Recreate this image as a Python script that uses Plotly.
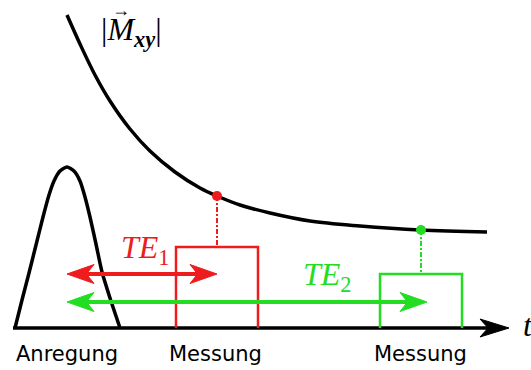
import plotly.graph_objects as go

# ---- data (x: time position, y: height above the time axis) ----
decay_t = [67, 80, 95, 110, 130, 150, 175, 200, 217, 240, 270, 310, 360, 420, 487]
decay_m = [313, 284, 253, 227, 199, 177, 156, 140, 132, 123, 115, 107, 102, 98, 96]

pulse_t = [15, 22, 29, 36, 43, 49, 54, 60, 67, 74, 80, 85, 90, 96, 102, 110, 120]
pulse_a = [0, 28, 55, 83, 111, 133, 147, 157, 161, 157, 147, 131, 111, 84, 56, 30, 0]

axis_start, axis_tip = 13, 509

meas_names = ["TE1", "TE2"]
meas_colors = ["#ee1c1c", "#22dd22"]
meas_t = [217, 421]            # measurement instant (dot position)
meas_m = [132, 98]             # signal at measurement
box_left = [176, 380]
box_right = [258, 462]
box_height = [81, 54]
arrow_start = [67, 67]
arrow_end = [217, 427]
arrow_level = [54, 26]

label_text = ["Anregung", "Messung", "Messung"]
label_t = [67, 215, 420]
label_y = -26

te_label_t = [145, 327]
te_label_y = [79, 52]

BLACK = "#000000"

fig = go.Figure()


def add_arrow_head(tip_x, y, direction, color, L=27, H=19, notch=0.72):
    xs = [tip_x, tip_x - direction * L, tip_x - direction * L * notch, tip_x - direction * L, tip_x]
    ys = [y, y + H / 2, y, y - H / 2, y]
    fig.add_trace(go.Scatter(x=xs, y=ys, mode="lines", fill="toself", fillcolor=color,
                             line=dict(color=color, width=1), hoverinfo="skip"))
    return tip_x - direction * L * notch


# time axis
shaft_end = add_arrow_head(axis_tip, 0, 1, BLACK, L=29, H=18)
fig.add_trace(go.Scatter(x=[axis_start, shaft_end + 2], y=[0, 0], mode="lines",
                         line=dict(color=BLACK, width=3.5), hoverinfo="skip"))

# excitation pulse
fig.add_trace(go.Scatter(x=pulse_t, y=pulse_a, mode="lines",
                         line=dict(color=BLACK, width=3.5, shape="spline", smoothing=0.6),
                         hoverinfo="skip"))

# decay curve
fig.add_trace(go.Scatter(x=decay_t, y=decay_m, mode="lines",
                         line=dict(color=BLACK, width=3.5, shape="spline", smoothing=1.0),
                         hoverinfo="skip"))

for i in range(2):
    c = meas_colors[i]
    # measurement window
    fig.add_trace(go.Scatter(x=[box_left[i], box_left[i], box_right[i], box_right[i]],
                             y=[0, box_height[i], box_height[i], 0], mode="lines",
                             line=dict(color=c, width=2.5), hoverinfo="skip"))
    # dotted connector
    fig.add_trace(go.Scatter(x=[meas_t[i], meas_t[i]], y=[meas_m[i], box_height[i]], mode="lines",
                             line=dict(color=c, width=2, dash="5px,2px,2px,2px"), hoverinfo="skip"))

for i in range(2):
    c = meas_colors[i]
    # double arrow (TE)
    l_end = add_arrow_head(arrow_start[i], arrow_level[i], -1, c)
    r_end = add_arrow_head(arrow_end[i], arrow_level[i], 1, c)
    fig.add_trace(go.Scatter(x=[l_end, r_end], y=[arrow_level[i], arrow_level[i]], mode="lines",
                             line=dict(color=c, width=4), hoverinfo="skip"))
    # measured point
    fig.add_trace(go.Scatter(x=[meas_t[i]], y=[meas_m[i]], mode="markers",
                             marker=dict(color=c, size=10), hoverinfo="skip"))

annotations = []
for txt, tx in zip(label_text, label_t):
    annotations.append(dict(x=tx, y=label_y, text=txt, showarrow=False,
                            font=dict(family="DejaVu Sans", size=21, color=BLACK)))
for i in range(2):
    annotations.append(dict(x=te_label_t[i], y=te_label_y[i],
                            text=f"<i>TE</i><sub>{i + 1}</sub>", showarrow=False,
                            font=dict(family="Liberation Serif", size=32, color=meas_colors[i])))
annotations.append(dict(x=131, y=297, text="|<i>M</i><sub><b><i>xy</i></b></sub>|", showarrow=False,
                        font=dict(family="Liberation Serif", size=32, color=BLACK)))
annotations.append(dict(x=121, y=318, text="\u2192", showarrow=False,
                        font=dict(family="Liberation Serif", size=18, color=BLACK)))
annotations.append(dict(x=521, y=3, text="<i>t</i>", showarrow=False, xanchor="left",
                        font=dict(family="Liberation Serif", size=32, color=BLACK)))

fig.update_layout(
    width=531, height=370,
    margin=dict(l=0, r=0, t=0, b=0),
    paper_bgcolor="white", plot_bgcolor="white",
    showlegend=False,
    xaxis=dict(range=[0, 531], visible=False, fixedrange=True),
    yaxis=dict(range=[-42, 328], visible=False, fixedrange=True),
    annotations=annotations,
)

fig.write_html("out.html")
